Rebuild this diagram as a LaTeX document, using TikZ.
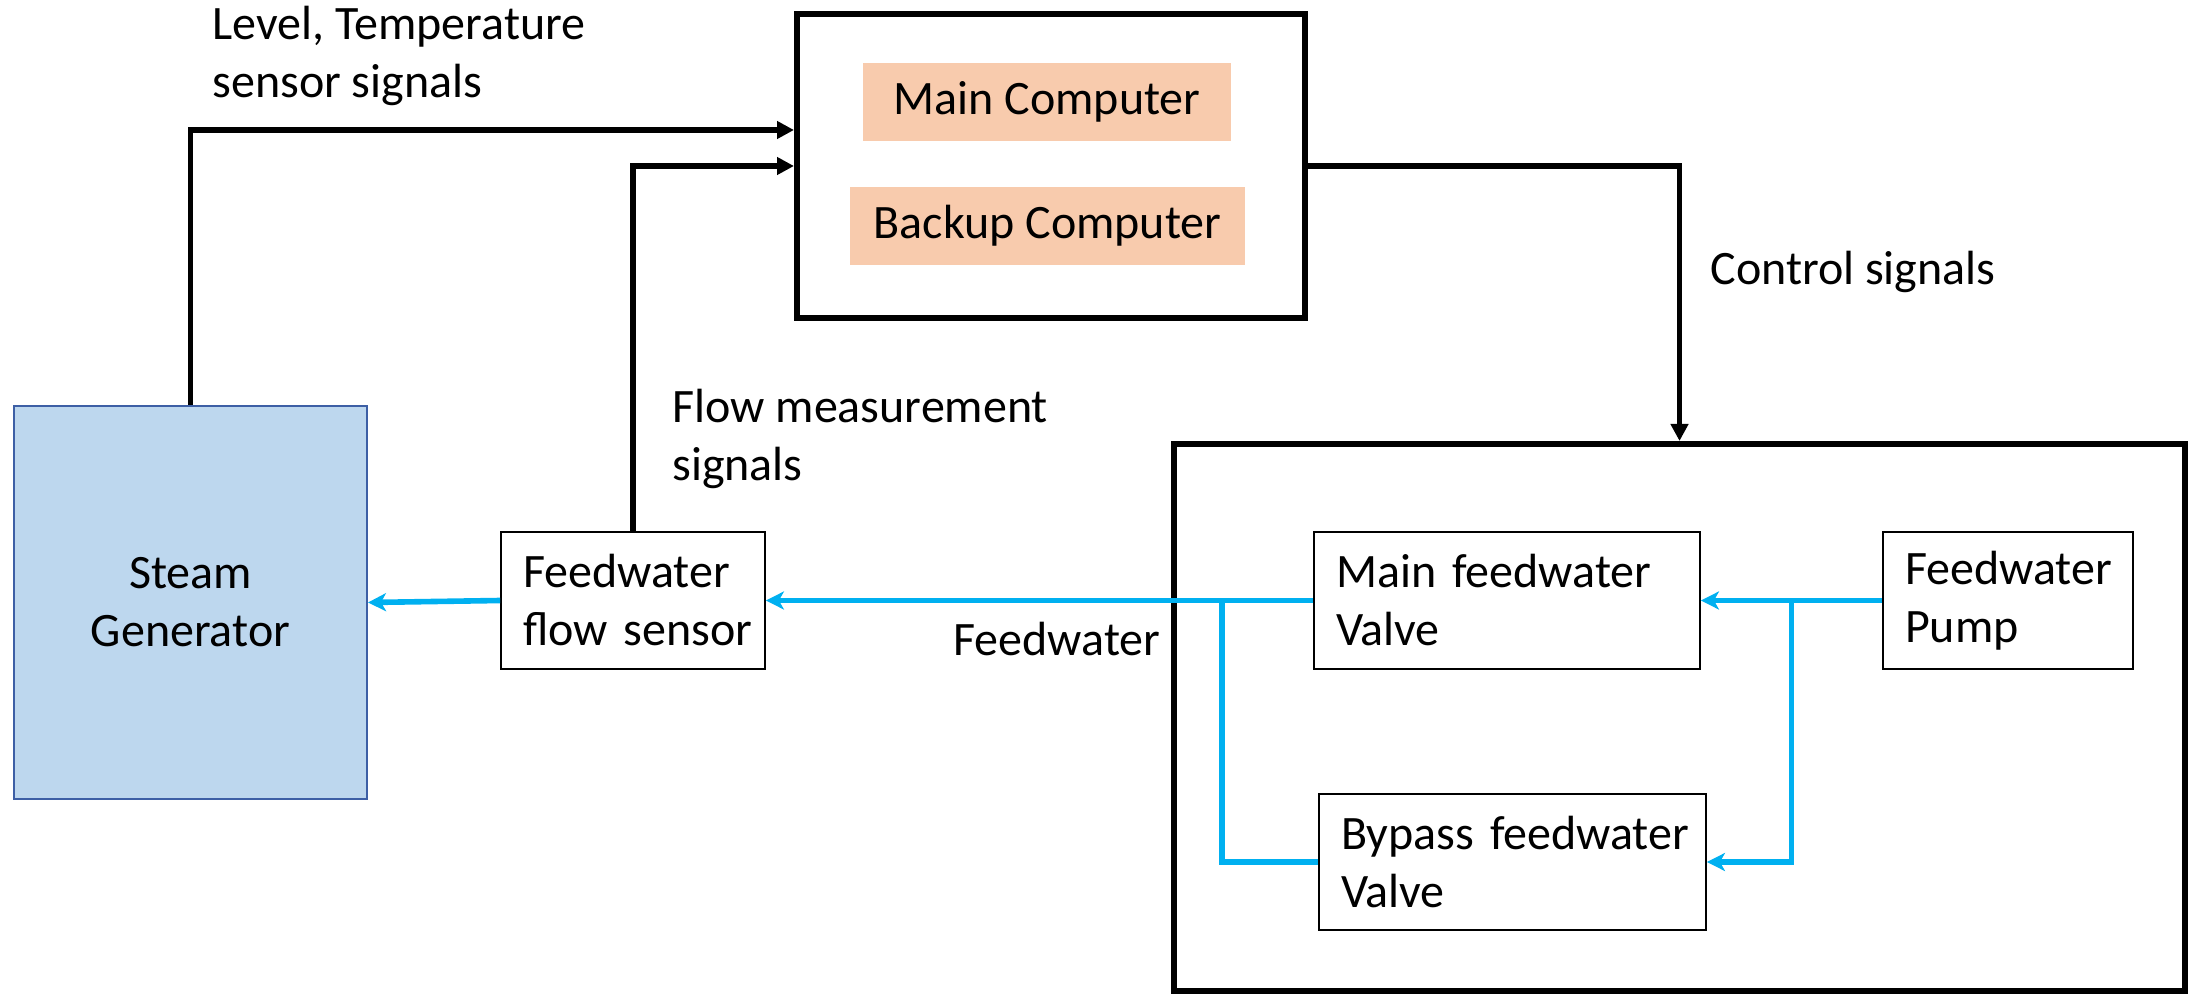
\documentclass[tikz,border=0pt]{standalone}
\usepackage{fontspec}
\setmainfont{Carlito}
\usetikzlibrary{arrows.meta,calc}
\definecolor{sgfill}{HTML}{BDD7EE}
\definecolor{sgline}{HTML}{3D5FA5}
\definecolor{compfill}{HTML}{F8CBAD}
\definecolor{water}{HTML}{00B0F0}
\begin{document}
\begin{tikzpicture}[x=0.5pt,y=-0.5pt,
  font=\fontsize{24}{29}\selectfont,
  bigbox/.style={draw,line width=3pt,inner sep=0pt},
  fillbox/.style={fill=compfill,inner sep=0pt},
  blk/.style={draw,line width=0.9pt,align=left,inner xsep=11pt,inner ysep=0pt},
  sig/.style={line width=2.7pt,-{Triangle[length=8.5pt,width=8.5pt]}},
  flow/.style={water,line width=2.8pt,-{Stealth[length=9pt,width=9pt,inset=2.5pt]}},
  flowline/.style={water,line width=2.8pt},
  lbl/.style={align=left,inner sep=0pt}]
\useasboundingbox (0,0) rectangle (2189,994);
% control computers
\node[bigbox, minimum width=254pt, minimum height=152pt] (comp) at (1051,166) {};
\node[fillbox, minimum width=184pt, minimum height=39pt] (mainc) at (1047,102) {Main Computer};
\node[fillbox, minimum width=197.5pt, minimum height=39pt] (backc) at (1047.5,226) {Backup Computer};
% steam generator and sensor
\node[draw=sgline, fill=sgfill, line width=1pt, minimum width=176.5pt, minimum height=196.5pt, align=center] (sg) at (190.5,602.5) {Steam\\Generator};
\node[blk, text width=110pt, minimum height=68.5pt] (sensor) at (633,600.5) {Feedwater\\\mbox{flow sensor}};
% plant box
\node[bigbox, minimum width=505.5pt, minimum height=273.5pt] (plant) at (1679.5,717.5) {};
\node[blk, text width=171pt, minimum height=68.5pt] (mainv) at (1507,600.5) {\mbox{Main feedwater}\\Valve};
\node[blk, text width=103pt, minimum height=68.5pt] (pump) at (2008,600.5) {Feedwater\\Pump};
\node[blk, text width=171.5pt, minimum height=68pt] (bypass) at (1512.5,862) {\mbox{Bypass feedwater}\\Valve};
% signals
\draw[sig] (sg.north) |- ([yshift=18pt]comp.west);
\draw[sig] (sensor.north) |- (comp.west);
\draw[sig] (comp.east) -| (plant.north);
% water flow
\draw[flow] (pump.west) -- (mainv.east);
\draw[flow] ($(pump.west)!0.5!(mainv.east)$) |- (bypass.east);
\draw[flow] (mainv.west) -- (sensor.east);
\draw[flowline] (bypass.west) -| ([xshift=-45.5pt]mainv.west);
\draw[flow] (sensor.west) -- (sg.east);
% labels
\node[lbl, anchor=north west] (lvl) at (212,6) {Level, Temperature\\sensor signals};
\node[lbl, anchor=north west] (flw) at (672,389) {Flow measurement\\signals};
\node[lbl, anchor=base west] (ctl) at (1710,285) {Control signals};
\node[lbl, anchor=base west] (fw) at (953,655) {Feedwater};
\end{tikzpicture}
\end{document}
